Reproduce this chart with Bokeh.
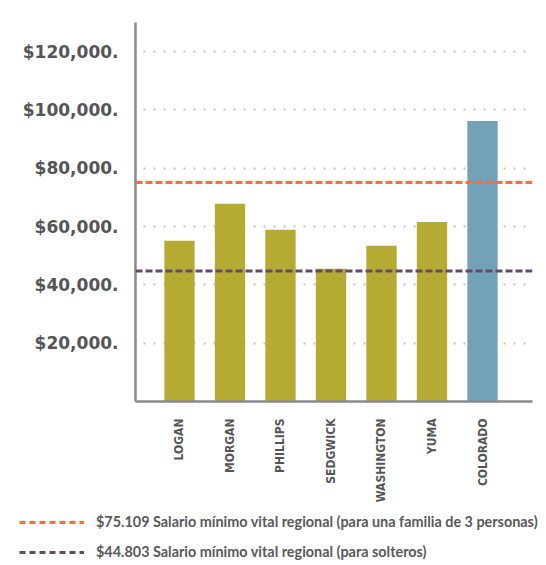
import math
from bokeh.plotting import figure
from bokeh.layouts import column
from bokeh.models import Span, FixedTicker, Legend, LegendItem, Range1d, ColumnDataSource
from bokeh.core.properties import value
from bokeh.embed import file_html
from bokeh.resources import INLINE

counties = ["LOGAN", "MORGAN", "PHILLIPS", "SEDGWICK", "WASHINGTON", "YUMA", "COLORADO"]
incomes = [55100, 67800, 58900, 45500, 53400, 61600, 96200]
bar_colors = ["#B5AB32", "#B5AB32", "#B5AB32", "#B5AB32", "#B5AB32", "#B5AB32", "#72A2B8"]

y_ticks = [20000, 40000, 60000, 80000, 100000, 120000]
y_tick_labels = ["$20,000.", "$40,000.", "$60,000.", "$80,000.", "$100,000.", "$120,000."]

thresholds = [75109, 44803]
threshold_labels = [
    "$75.109 Salario mínimo vital regional (para una familia de 3 personas)",
    "$44.803 Salario mínimo vital regional (para solteros)",
]
threshold_colors = ["#F6703F", "#654A68"]

x_pos = list(range(len(counties)))
source = ColumnDataSource(dict(x=x_pos, top=incomes, color=bar_colors, name=counties))

p = figure(width=540, height=505,
           x_range=Range1d(-0.871, 6.99), y_range=Range1d(0, 130000),
           output_backend="svg", toolbar_location=None,
           min_border_left=135, min_border_right=8, min_border_top=22, min_border_bottom=103)
p.outline_line_color = None
p.background_fill_color = "white"
p.border_fill_color = "white"
p.frame_align = False

p.vbar(x="x", top="top", width=0.6, fill_color="color", line_color=None, source=source)

for val, col in zip(thresholds, threshold_colors):
    p.add_layout(Span(location=val, dimension="width", line_color=col,
                      line_width=3, line_dash="7 3"))

# axes
p.xaxis.ticker = FixedTicker(ticks=x_pos)
p.xaxis.major_label_overrides = dict(zip(x_pos, counties))
p.xaxis.major_label_orientation = math.pi / 2
p.yaxis.ticker = FixedTicker(ticks=y_ticks)
p.yaxis.major_label_overrides = dict(zip(y_ticks, y_tick_labels))

for ax in (p.xaxis, p.yaxis):
    ax.axis_line_color = "#8A8A8C"
    ax.axis_line_width = 2.5
    ax.major_tick_line_color = None
    ax.minor_tick_line_color = None
    ax.major_label_text_color = "#555557"
    ax.major_label_standoff = 11

p.yaxis.major_label_text_font = "DejaVu Sans"
p.yaxis.major_label_text_font_style = "bold"
p.yaxis.major_label_text_font_size = "17px"

p.xaxis.major_label_text_font = "DejaVu Sans Condensed"
p.xaxis.major_label_text_font_style = "bold"
p.xaxis.major_label_text_font_size = "12px"

p.xgrid.grid_line_color = None
p.ygrid.grid_line_color = "#C4C4C4"
p.ygrid.grid_line_width = 2
p.ygrid.grid_line_dash = "2 8"
p.ygrid.grid_line_dash_offset = 2

# legend panel below the chart
leg = figure(width=540, height=60, x_range=Range1d(0, 1), y_range=Range1d(0, 1),
             output_backend="svg", toolbar_location=None,
             min_border_left=0, min_border_right=0, min_border_top=0, min_border_bottom=0)
leg.axis.visible = False
leg.grid.grid_line_color = None
leg.outline_line_color = None
leg.frame_align = False

items = []
for lab, col in zip(threshold_labels, threshold_colors):
    r = leg.line(x=[float("nan")], y=[float("nan")], line_color=col, line_width=3, line_dash="6 4")
    items.append(LegendItem(label=value(lab), renderers=[r]))

legend = Legend(items=items, location=(19, 5), orientation="vertical",
                glyph_width=65, glyph_height=16, label_height=16, label_standoff=12,
                spacing=13, padding=0, margin=0,
                background_fill_alpha=0, border_line_color=None,
                label_text_font="Lato", label_text_font_style="bold",
                label_text_font_size="14.4px", label_text_color="#58595B")
leg.add_layout(legend)

layout = column(p, leg, spacing=0)
open("out.html", "w").write(file_html(layout, INLINE))
